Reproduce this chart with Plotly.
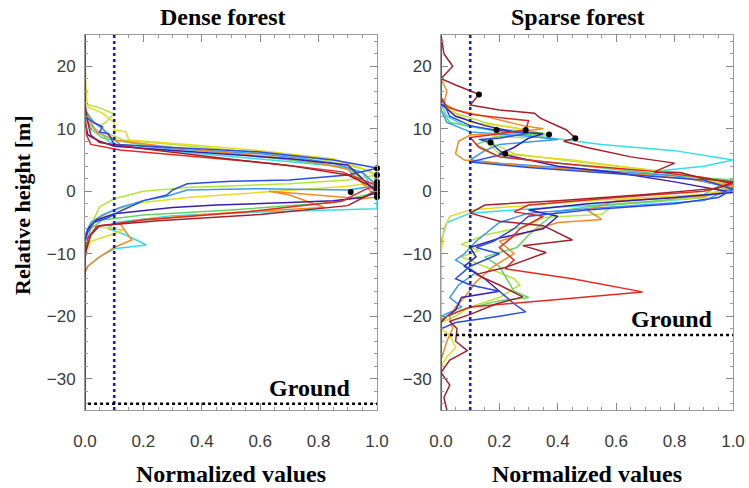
import plotly.graph_objects as go

# ---------------- data ----------------
colors = ["#e02a22", "#a3202c", "#f08c24", "#e4dc22", "#b4e43c",
          "#66d266", "#34dde6", "#3c98f0", "#2c4ce0", "#3a1eb0"]

# Dense forest profiles (value, height)
dense_red_v = [0, 0, 0.005, 0.02, 0.12, 0.35, 0.65, 0.88, 1.0, 0.96, 0.88, 0.55, 0.2, 0.04, 0.01, 0, 0]
dense_red_h = [25, 13, 9, 7.5, 6.6, 5.6, 4.4, 3.1, 0.9, 0.3, -1.6, -3.3, -4.6, -5.6, -7.5, -11, -35]
dense_darkred_v = [0, 0, 0.01, 0.02, 0.05, 0.2, 0.45, 0.7, 0.9, 1.0, 0.97, 0.9, 0.6, 0.25, 0.05, 0.02, 0, 0]
dense_darkred_h = [25, 14, 11, 9, 7.8, 6.8, 5.4, 4.1, 2.6, 0.3, -0.6, -2.3, -3.7, -4.7, -5.5, -7, -10, -35]
dense_orange_v = [0, 0, 0.02, 0.04, 0.1, 0.3, 0.55, 0.75, 0.9, 1.0, 0.95, 0.75, 0.63, 0.7, 0.82, 0.5, 0.2, 0.12, 0.14, 0.16, 0.1, 0.05, 0.01, 0, 0]
dense_orange_h = [25, 13, 11, 9.5, 8.2, 7.0, 5.9, 5.0, 3.5, -0.9, -1.2, -0.5, 0.0, -0.6, -2.6, -3.4, -4.5, -5.2, -6.5, -7.8, -9, -10.5, -12, -13, -35]
dense_yellow_v = [0, 0, 0.005, 0.01, 0.06, 0.1, 0.1, 0.14, 0.15, 0.35, 0.6, 0.85, 0.98, 1.0, 0.9, 0.6, 0.35, 0.2, 0.1, 0.05, 0.02, 0.13, 0.1, 0.02, 0, 0]
dense_yellow_h = [25, 20, 15, 13.5, 12.5, 11, 9.8, 9.5, 8.2, 7.5, 6.5, 5.2, 3.2, 1.5, 0.8, -0.2, -1, -1.8, -3, -4.2, -5.5, -6.2, -6.8, -8, -10, -35]
dense_ygreen_v = [0, 0, 0.04, 0.1, 0.07, 0.05, 0.08, 0.13, 0.3, 0.55, 0.8, 0.95, 1.0, 0.9, 0.7, 0.35, 0.2, 0.1, 0.05, 0.03, 0.01, 0, 0]
dense_ygreen_h = [25, 14, 13.5, 12.4, 11, 10.5, 9.2, 8.2, 7.5, 6.4, 5.2, 3.6, 2.6, 1.8, 1.2, 0.6, 0, -1.2, -2.5, -4.5, -6, -8, -35]
dense_green_v = [0, 0, 0.02, 0.06, 0.2, 0.45, 0.7, 0.9, 1.0, 0.85, 0.5, 0.2, 0.06, 0.02, 0, 0]
dense_green_h = [25, 12, 10, 8.5, 7.4, 6.3, 5.0, 3.8, -0.2, -1.8, -3.0, -3.8, -4.6, -6, -9, -35]
dense_cyan_v = [0, 0, 0.02, 0.06, 0.08, 0.12, 0.35, 0.65, 0.85, 0.95, 1.0, 1.0, 0.6, 0.3, 0.1, 0.08, 0.14, 0.21, 0.1, 0.05, 0.01, 0, 0]
dense_cyan_h = [25, 12, 10.5, 9, 8, 7.3, 6.2, 5.0, 4.1, 3.0, -0.5, -2.8, -3.3, -3.9, -5, -6, -7, -8.6, -9.2, -10.5, -12, -13, -35]
dense_lblue_v = [0, 0, 0.03, 0.06, 0.08, 0.12, 0.3, 0.6, 0.75, 0.85, 0.95, 1.0, 0.9, 0.6, 0.35, 0.28, 0.2, 0.12, 0.06, 0.02, 0, 0]
dense_lblue_h = [25, 13, 11, 10, 9, 7.5, 6.8, 6.0, 5.2, 4.5, 3.0, 0.9, 0.2, 0.4, 0.2, -0.8, -1.5, -2.6, -3.8, -5, -7, -35]
dense_blue_v = [0, 0, 0.03, 0.06, 0.05, 0.08, 0.1, 0.3, 0.6, 0.85, 1.0, 0.9, 0.7, 0.5, 0.35, 0.3, 0.28, 0.2, 0.12, 0.08, 0.03, 0.01, 0, 0]
dense_blue_h = [25, 12, 11, 10.3, 9.5, 9.2, 7.5, 7.0, 6.3, 5.0, 3.7, 2.6, 1.8, 1.6, 1.2, 0.2, -0.6, -1.5, -3.2, -4.2, -5, -6.5, -8, -35]
dense_dblue_v = [0, 0, 0.01, 0.05, 0.1, 0.4, 0.7, 0.9, 1.0, 0.95, 0.85, 0.7, 0.45, 0.3, 0.1, 0.04, 0.01, 0, 0]
dense_dblue_h = [25, 11, 9, 8, 7.2, 6.2, 5.2, 4.2, -0.2, -1.0, -1.5, -1.8, -2.2, -2.6, -3.6, -4.6, -6, -8, -35]

dense_peak_v = [1.0, 1.0, 1.0, 1.0, 1.0, 1.0, 1.0, 0.91]
dense_peak_h = [3.7, 2.6, 1.5, 0.9, 0.3, -0.3, -0.9, -0.1]

# Sparse forest profiles (value, height)
sparse_darkred_v = [0, 0.01, 0.04, 0.0, 0.05, 0.13, 0.1, 0.2, 0.32, 0.34, 0.43, 0.46, 0.42, 0.5, 0.65, 0.8, 0.73, 0.82, 0.9, 1.0, 0.95, 0.7, 0.4, 0.15, 0.1, 0.2, 0.35, 0.45, 0.28, 0.36, 0.22, 0.12, 0.2, 0.28, 0.19, 0.1, 0.03, 0.055, 0.05, 0.09, 0.03, 0.0, 0.03, 0.01, 0.02]
sparse_darkred_h = [25, 22, 20, 18, 17, 15.5, 13.8, 13, 12.5, 11.7, 9.8, 8.5, 8, 7, 5.5, 4.5, 3.1, 3.0, 2.0, 1.5, 0.5, -0.5, -1.5, -2.2, -3.5, -4.8, -5.5, -7.8, -8.7, -9.8, -12.2, -13.3, -15, -16.9, -18, -19.7, -20.8, -22, -24, -25.5, -27, -29, -31, -33, -35]
sparse_red_v = [0, 0, 0.02, 0.1, 0.3, 0.29, 0.2, 0.1, 0.13, 0.2, 0.4, 0.7, 0.9, 1.0, 0.9, 0.6, 0.3, 0.25, 0.35, 0.27, 0.24, 0.2, 0.25, 0.22, 0.45, 0.69, 0.4, 0.1, 0.02, 0, 0]
sparse_red_h = [25, 15, 13.5, 12.3, 11.3, 9.8, 9.2, 8.6, 7, 5.5, 4.5, 3.3, 2.2, 1.2, 0, -1, -2.2, -3.3, -4, -6, -7.5, -9, -11, -12.4, -14, -16.1, -17.3, -18.5, -20, -20.8, -35]
sparse_orange_v = [0, 0, 0.02, 0.01, 0.05, 0.15, 0.28, 0.35, 0.25, 0.1, 0.06, 0.05, 0.08, 0.3, 0.6, 0.85, 1.0, 0.95, 0.9, 0.6, 0.5, 0.55, 0.4, 0.3, 0.2, 0.25, 0.18, 0.12, 0.08, 0.05, 0.03, 0.04, 0.02, 0, 0]
sparse_orange_h = [25, 18, 16, 14, 13, 12, 10.5, 10, 9.5, 9, 8, 6, 5, 4, 3, 2, 0.8, -0.3, -0.8, -1.5, -3, -4.5, -5, -6.5, -8, -10, -12, -14.5, -17, -18.5, -20, -22, -24, -27, -35]
sparse_yellow_v = [0, 0, 0.03, 0.1, 0.25, 0.3, 0.2, 0.15, 0.2, 0.45, 0.7, 0.9, 1.0, 0.9, 0.5, 0.1, 0.03, 0.01, 0, 0, 0.03, 0.05, 0.02, 0, 0]
sparse_yellow_h = [25, 15, 13, 11, 10.2, 9.8, 9.3, 8, 6, 5, 3.5, 2, 0.5, -0.5, -1.5, -3, -4, -6, -10, -22, -23, -25, -26.5, -28, -35]
sparse_ygreen_v = [0, 0, 0.05, 0.15, 0.37, 0.3, 0.2, 0.15, 0.25, 0.5, 0.8, 1.0, 0.9, 0.6, 0.55, 0.35, 0.3, 0.15, 0.07, 0.13, 0.07, 0.15, 0.25, 0.27, 0.2, 0.1, 0.05, 0, 0]
sparse_ygreen_h = [25, 14, 12.5, 11, 9.1, 8.5, 8.8, 8.3, 6, 4.5, 3, 1.0, -1, -2, -3.7, -4.2, -5.5, -7, -8.5, -9.5, -10.5, -12, -14, -15, -17, -18.5, -20, -21, -35]
sparse_green_v = [0, 0, 0.03, 0.15, 0.3, 0.35, 0.2, 0.12, 0.2, 0.5, 0.8, 1.0, 0.95, 0.9, 0.75, 0.5, 0.4, 0.35, 0.3, 0.26, 0.15, 0.2, 0.25, 0.3, 0.2, 0.07, 0.0, 0]
sparse_green_h = [25, 13, 11, 10, 9.6, 9.2, 8.8, 7.5, 5.5, 4, 2.5, 1.8, 0.8, -0.5, -1.5, -2.5, -3.2, -5, -7, -9, -10.5, -12, -16, -17, -17.5, -19, -20.5, -35]
sparse_cyan_v = [0, 0, 0.02, 0.08, 0.2, 0.35, 0.55, 0.8, 1.0, 0.9, 0.75, 0.85, 1.0, 0.95, 0.9, 0.7, 0.4, 0.1, 0.02, 0, 0]
sparse_cyan_h = [25, 14, 12, 10.5, 9.5, 8.7, 7.5, 6.5, 5.0, 4.0, 3.3, 2.5, 1.5, 0, -1, -1.8, -2.5, -3.5, -5, -8, -35]
sparse_lblue_v = [0, 0, 0.02, 0.1, 0.3, 0.4, 0.2, 0.15, 0.1, 0.2, 0.5, 0.8, 1.0, 0.9, 0.5, 0.3, 0.2, 0.12, 0.08, 0.05, 0.12, 0.06, 0.03, 0.07, 0.0, 0]
sparse_lblue_h = [25, 13, 11, 9.5, 8.8, 8.3, 7.5, 6.5, 5, 4.5, 3.5, 2.5, 0.5, -1.5, -2.8, -3.5, -5, -8, -10, -11, -13, -15, -17, -18.5, -20, -35]
sparse_blue_v = [0, 0, 0.03, 0.1, 0.18, 0.3, 0.2, 0.13, 0.17, 0.2, 0.22, 0.15, 0.1, 0.3, 0.6, 0.9, 1.0, 0.95, 0.8, 0.5, 0.3, 0.25, 0.18, 0.12, 0.2, 0.1, 0.05, 0.1, 0.2, 0.25, 0.29, 0.2, 0.05, 0.0, 0]
sparse_blue_h = [25, 15, 12, 10.5, 9.8, 9.3, 8.5, 8.3, 7.8, 6.5, 6.0, 5.2, 4.7, 3.8, 2.8, 1.8, 0.3, -1, -2, -3, -4, -6, -8, -9, -10, -12, -14, -15, -16, -18, -19.3, -20, -21, -22, -35]
sparse_dblue_v = [0, 0, 0.05, 0.15, 0.25, 0.35, 0.3, 0.25, 0.2, 0.4, 0.6, 0.8, 1.0, 0.8, 0.5, 0.3, 0.4, 0.35, 0.2, 0.1, 0.12, 0.08, 0.15, 0.2, 0.07, 0.05, 0.02, 0, 0]
sparse_dblue_h = [25, 14, 12, 10.5, 9.5, 9.2, 8.5, 7, 6, 4, 3, 1.5, -0.2, -1, -2, -3, -4, -6, -7.5, -9, -10.5, -12, -14, -16, -17, -19, -20, -21, -35]

sparse_peak_v = [0.13, 0.19, 0.29, 0.37, 0.46, 0.17, 0.22]
sparse_peak_h = [15.5, 9.8, 9.8, 9.1, 8.5, 7.8, 6.0]

dense_series = [
    (dense_red_v, dense_red_h), (dense_darkred_v, dense_darkred_h),
    (dense_orange_v, dense_orange_h), (dense_yellow_v, dense_yellow_h),
    (dense_ygreen_v, dense_ygreen_h), (dense_green_v, dense_green_h),
    (dense_cyan_v, dense_cyan_h), (dense_lblue_v, dense_lblue_h),
    (dense_blue_v, dense_blue_h), (dense_dblue_v, dense_dblue_h),
]
sparse_series = [
    (sparse_red_v, sparse_red_h), (sparse_darkred_v, sparse_darkred_h),
    (sparse_orange_v, sparse_orange_h), (sparse_yellow_v, sparse_yellow_h),
    (sparse_ygreen_v, sparse_ygreen_h), (sparse_green_v, sparse_green_h),
    (sparse_cyan_v, sparse_cyan_h), (sparse_lblue_v, sparse_lblue_h),
    (sparse_blue_v, sparse_blue_h), (sparse_dblue_v, sparse_dblue_h),
]

threshold = 0.1
dense_ground = -34
sparse_ground = -23
x_ticks = [0.0, 0.2, 0.4, 0.6, 0.8, 1.0]
y_ticks = [20, 10, 0, -10, -20, -30]

# ---------------- figure ----------------
W, H = 749, 488
fig = go.Figure()

order = [6, 4, 3, 5, 7, 2, 9, 8, 0, 1]
for panel, series, xa, ya in [("d", dense_series, "x", "y"), ("s", sparse_series, "x2", "y2")]:
    for i in order:
        v, h = series[i]
        fig.add_trace(go.Scatter(x=v, y=h, mode="lines", xaxis=xa, yaxis=ya,
                                 line=dict(color=colors[i], width=1.5),
                                 showlegend=False, hoverinfo="skip"))

fig.add_trace(go.Scatter(x=dense_peak_v, y=dense_peak_h, mode="markers", xaxis="x", yaxis="y",
                         marker=dict(color="black", size=6), cliponaxis=False, showlegend=False))
fig.add_trace(go.Scatter(x=sparse_peak_v, y=sparse_peak_h, mode="markers", xaxis="x2", yaxis="y2",
                         marker=dict(color="black", size=6), cliponaxis=False, showlegend=False))

for xa, ya, g in [("x", "y", dense_ground), ("x2", "y2", sparse_ground)]:
    fig.add_shape(type="line", xref=xa, yref=ya, x0=threshold, x1=threshold, y0=-35, y1=25,
                  line=dict(color="#1a1ae6", width=2.6, dash="dot"), layer="above")
    fig.add_shape(type="line", xref=xa, yref=ya, x0=-0.01, x1=1.03, y0=g, y1=g,
                  line=dict(color="black", width=2.6, dash="dot"), layer="above")

dom_left = [85 / W, 377 / W]
dom_right = [441 / W, 733 / W]
dom_y = [1 - 410 / H, 1 - 35 / H]

tickfont = dict(family="Liberation Sans, Arial, sans-serif", size=17, color="#3a3a3a")
common_x = dict(range=[0, 1], tickvals=x_ticks, tickformat=".1f", ticks="inside", ticklen=7,
                tickcolor="#888888", showline=True, linecolor="#999999", mirror="allticks",
                showgrid=False, zeroline=False, tickfont=tickfont, ticklabelstandoff=16,
                automargin=False,
                minor=dict(dtick=0.05, ticks="inside", ticklen=3, tickcolor="#999999"))
common_y = dict(range=[-35, 25], tickvals=y_ticks, ticks="inside", ticklen=7,
                tickcolor="#888888", showline=True, linecolor="#999999", mirror="allticks",
                showgrid=False, zeroline=False, tickfont=tickfont, ticklabelstandoff=5,
                automargin=False,
                minor=dict(dtick=2, ticks="inside", ticklen=3, tickcolor="#999999"))

fig.update_layout(
    width=W, height=H, margin=dict(l=0, r=0, t=0, b=0, autoexpand=False),
    paper_bgcolor="white", plot_bgcolor="white",
    xaxis=dict(domain=dom_left, anchor="y", **common_x),
    yaxis=dict(domain=dom_y, anchor="x", **common_y),
    xaxis2=dict(domain=dom_right, anchor="y2", **common_x),
    yaxis2=dict(domain=dom_y, anchor="x2", **common_y),
)

serif_big = dict(family="Liberation Serif, Times New Roman, serif", size=24, color="black")
serif_ytitle = dict(family="Liberation Serif, Times New Roman, serif", size=22, color="black")
ann = [
    dict(text="<b>Dense forest</b>", x=223 / W, y=1 - 17 / H),
    dict(text="<b>Sparse forest</b>", x=578 / W, y=1 - 17 / H),
    dict(text="<b>Normalized values</b>", x=231 / W, y=1 - 474 / H),
    dict(text="<b>Normalized values</b>", x=587 / W, y=1 - 474 / H),
]
for a in ann:
    fig.add_annotation(xref="paper", yref="paper", xanchor="center", yanchor="middle",
                       showarrow=False, font=serif_big, **a)
fig.add_annotation(xref="paper", yref="paper", x=22 / W, y=1 - 205 / H, text="<b>Relative height [m]</b>",
                   textangle=-90, showarrow=False, font=serif_ytitle, xanchor="center", yanchor="middle")
fig.add_annotation(xref="x", yref="y", x=0.77, y=-31.5, text="<b>Ground</b>", showarrow=False,
                   font=serif_big, xanchor="center", yanchor="middle")
fig.add_annotation(xref="x2", yref="y2", x=0.79, y=-20.5, text="<b>Ground</b>", showarrow=False,
                   font=serif_big, xanchor="center", yanchor="middle")

fig.write_html("out.html")
